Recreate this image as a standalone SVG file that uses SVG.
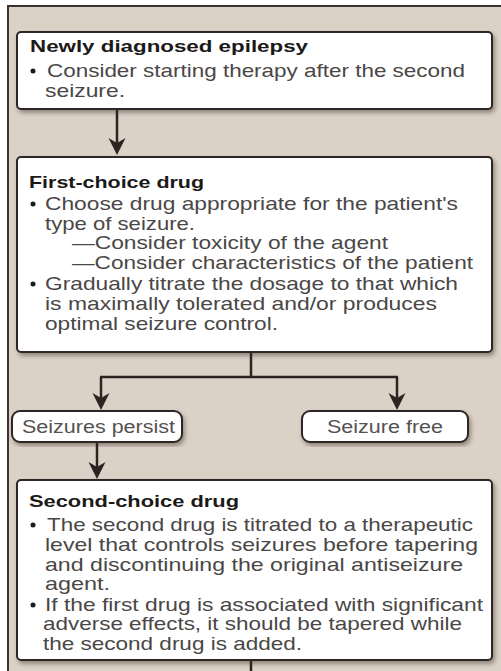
<svg xmlns="http://www.w3.org/2000/svg" width="501" height="671" viewBox="0 0 501 671">
<style>
.bg{fill:#dbd1c7}
.frame{fill:none;stroke:#3a3330;stroke-width:2}
.box{fill:#ffffff;stroke:#2e2826;stroke-width:2;filter:url(#sh)}
.t{font-family:"Liberation Sans",Arial,sans-serif;font-weight:bold;font-size:17px;fill:#1c1a19}
.b{font-family:"Liberation Sans",Arial,sans-serif;font-size:18.5px;fill:#4a4746}
.lbl{font-family:"Liberation Sans",Arial,sans-serif;font-size:18px;fill:#555150;text-anchor:start}
.dot{fill:#1c1a19}
.c{fill:none;stroke:#2b2421;stroke-width:2.5}
</style>
<defs>
<filter id="sh" x="-5%" y="-10%" width="112%" height="125%">
<feDropShadow dx="2" dy="3" stdDeviation="2" flood-color="#3a2e28" flood-opacity="0.45"/>
</filter>
<marker id="ah" markerUnits="userSpaceOnUse" markerWidth="20" markerHeight="20" viewBox="-18 -10 20 20" refX="-6" refY="0" orient="auto">
<path d="M0,0 L-17,-8.5 L-12,0 L-17,8.5 Z" fill="#2b2421"/>
</marker>
</defs>
<rect class="bg" x="8" y="6" width="493" height="665"/>
<path class="frame" d="M8,671 V6 H501"/>

<g id="connectors">
<path class="c" d="M117,109 V149" marker-end="url(#ah)"/>
<path class="c" d="M251,352 V377"/>
<path class="c" d="M100,377 H398"/>
<path class="c" d="M101,377 V404" marker-end="url(#ah)"/>
<path class="c" d="M397,377 V404" marker-end="url(#ah)"/>
<path class="c" d="M97,442 V473" marker-end="url(#ah)"/>
<path class="c" d="M251,660 V671"/>
</g>

<g id="newly-diagnosed">
<rect class="box" x="17" y="32" width="475" height="77" rx="4"/>
<text class="t" x="30" y="52" textLength="278" lengthAdjust="spacingAndGlyphs">Newly diagnosed epilepsy</text>
<circle class="dot" cx="33" cy="71" r="2.5"/>
<text class="b" x="47" y="77" textLength="418" lengthAdjust="spacingAndGlyphs">Consider starting therapy after the second</text>
<text class="b" x="45" y="97" textLength="80" lengthAdjust="spacingAndGlyphs">seizure.</text>
</g>

<g id="first-choice">
<rect class="box" x="17" y="157" width="475" height="195" rx="4"/>
<text class="t" x="29" y="188" textLength="175" lengthAdjust="spacingAndGlyphs">First-choice drug</text>
<circle class="dot" cx="33" cy="204" r="2.5"/>
<text class="b" x="45" y="210" textLength="413" lengthAdjust="spacingAndGlyphs">Choose drug appropriate for the patient's</text>
<text class="b" x="45" y="230" textLength="150" lengthAdjust="spacingAndGlyphs">type of seizure.</text>
<text class="b" x="72" y="249" textLength="316" lengthAdjust="spacingAndGlyphs">—Consider toxicity of the agent</text>
<text class="b" x="72" y="269" textLength="401" lengthAdjust="spacingAndGlyphs">—Consider characteristics of the patient</text>
<circle class="dot" cx="33" cy="284" r="2.5"/>
<text class="b" x="45" y="290" textLength="413" lengthAdjust="spacingAndGlyphs">Gradually titrate the dosage to that which</text>
<text class="b" x="45" y="310" textLength="392" lengthAdjust="spacingAndGlyphs">is maximally tolerated and/or produces</text>
<text class="b" x="45" y="330" textLength="233" lengthAdjust="spacingAndGlyphs">optimal seizure control.</text>
</g>

<g id="seizures-persist">
<rect class="box" x="12" y="411" width="170" height="31" rx="8"/>
<text class="lbl" x="22" y="433" textLength="153" lengthAdjust="spacingAndGlyphs">Seizures persist</text>
</g>

<g id="seizure-free">
<rect class="box" x="302" y="411" width="166" height="31" rx="8"/>
<text class="lbl" x="327" y="433" textLength="116" lengthAdjust="spacingAndGlyphs">Seizure free</text>
</g>

<g id="second-choice">
<rect class="box" x="17" y="480" width="475" height="180" rx="4"/>
<text class="t" x="29" y="507" textLength="210" lengthAdjust="spacingAndGlyphs">Second-choice drug</text>
<circle class="dot" cx="33" cy="525" r="2.5"/>
<text class="b" x="47" y="531" textLength="426" lengthAdjust="spacingAndGlyphs">The second drug is titrated to a therapeutic</text>
<text class="b" x="45" y="551" textLength="433" lengthAdjust="spacingAndGlyphs">level that controls seizures before tapering</text>
<text class="b" x="45" y="571" textLength="418" lengthAdjust="spacingAndGlyphs">and discontinuing the original antiseizure</text>
<text class="b" x="45" y="590" textLength="65" lengthAdjust="spacingAndGlyphs">agent.</text>
<circle class="dot" cx="33" cy="605" r="2.5"/>
<text class="b" x="45" y="611" textLength="438" lengthAdjust="spacingAndGlyphs">If the first drug is  associated with significant</text>
<text class="b" x="43" y="630" textLength="419" lengthAdjust="spacingAndGlyphs">adverse effects, it should be tapered while</text>
<text class="b" x="43" y="650" textLength="259" lengthAdjust="spacingAndGlyphs">the second drug is added.</text>
</g>
</svg>
